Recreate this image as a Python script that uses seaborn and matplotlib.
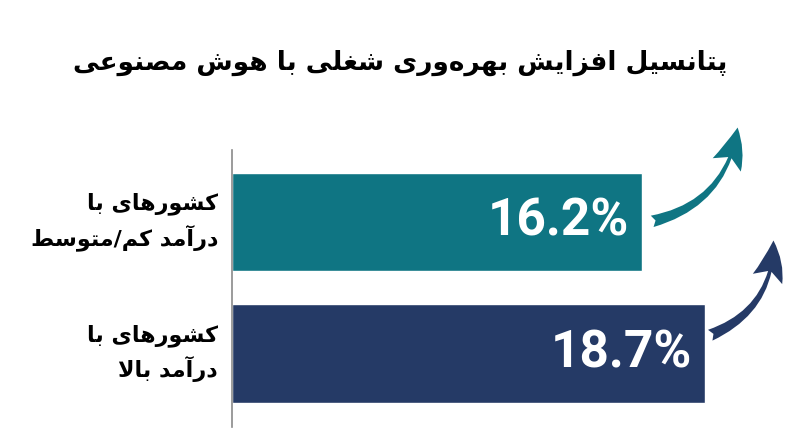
import seaborn as sns
import matplotlib.pyplot as plt
import pandas as pd
from matplotlib.patches import FancyArrowPatch

# data
groups = ['کشورهای با\nدرآمد کم/متوسط', 'کشورهای با\nدرآمد بالا']
values = [16.2, 18.7]
colors = ['#0F7583', '#253A66']
title = 'پتانسیل افزایش بهره\u200cوری شغلی با هوش مصنوعی'

# simple persian shaping (matplotlib has no complex text layout)
# letter: (isolated, final, initial, medial) ; 2 forms = right-joining only
FORMS = {
    'ا': (0xFE8D, 0xFE8E), 'آ': (0xFE81, 0xFE82),
    'د': (0xFEA9, 0xFEAA), 'ر': (0xFEAD, 0xFEAE),
    'ز': (0xFEAF, 0xFEB0), 'و': (0xFEED, 0xFEEE),
    'ب': (0xFE8F, 0xFE90, 0xFE91, 0xFE92), 'پ': (0xFB56, 0xFB57, 0xFB58, 0xFB59),
    'ت': (0xFE95, 0xFE96, 0xFE97, 0xFE98), 'س': (0xFEB1, 0xFEB2, 0xFEB3, 0xFEB4),
    'ش': (0xFEB5, 0xFEB6, 0xFEB7, 0xFEB8), 'ص': (0xFEB9, 0xFEBA, 0xFEBB, 0xFEBC),
    'ط': (0xFEC1, 0xFEC2, 0xFEC3, 0xFEC4), 'ع': (0xFEC9, 0xFECA, 0xFECB, 0xFECC),
    'غ': (0xFECD, 0xFECE, 0xFECF, 0xFED0), 'ف': (0xFED1, 0xFED2, 0xFED3, 0xFED4),
    'ک': (0xFB8E, 0xFB8F, 0xFB90, 0xFB91), 'ل': (0xFEDD, 0xFEDE, 0xFEDF, 0xFEE0),
    'م': (0xFEE1, 0xFEE2, 0xFEE3, 0xFEE4), 'ن': (0xFEE5, 0xFEE6, 0xFEE7, 0xFEE8),
    'ه': (0xFEE9, 0xFEEA, 0xFEEB, 0xFEEC), 'ی': (0xFBFC, 0xFBFD, 0xFBFE, 0xFBFF),
}


def shape_line(s):
    s = s.replace('لا', '\uE000')  # lam-alef placeholder
    out = []
    for i, ch in enumerate(s):
        prev = s[i - 1] if i > 0 else ''
        nxt = s[i + 1] if i < len(s) - 1 else ''
        joins_prev = prev in FORMS and len(FORMS[prev]) == 4
        if ch == '\uE000':
            out.append(chr(0xFEFC if joins_prev else 0xFEFB))
            continue
        if ch == '\u200c':
            continue
        if ch not in FORMS:
            out.append(ch)
            continue
        f = FORMS[ch]
        joins_next = len(f) == 4 and (nxt in FORMS or nxt == '\uE000')
        if joins_prev and joins_next:
            out.append(chr(f[3]))
        elif joins_prev:
            out.append(chr(f[1]))
        elif joins_next:
            out.append(chr(f[2]))
        else:
            out.append(chr(f[0]))
    return ''.join(out)[::-1]


def fa(s):
    return '\n'.join(shape_line(l) for l in s.split('\n'))


df = pd.DataFrame({'group': [fa(g) for g in groups], 'value': values})

sns.set_theme(style='white')
plt.rcParams['font.family'] = ['DejaVu Sans']

fig = plt.figure(figsize=(8, 4.47), dpi=100)
ax = fig.add_axes([0.29, 0.045, 0.71, 0.62])
sns.barplot(data=df, x='value', y='group', hue='group', palette=colors,
            width=0.75, saturation=1, legend=False, ax=ax)
ax.set_xlim(0, 22.45)
ax.set_ylim(1.56, -0.55)
ax.set_xticks([])
ax.set_yticks([])
ax.set_xlabel('')
ax.set_ylabel('')
for side in ['top', 'right', 'bottom']:
    ax.spines[side].set_visible(False)
ax.spines['left'].set_color('#8a8a8a')
ax.spines['left'].set_linewidth(1.2)

# group labels
for i, g in enumerate(df['group']):
    ax.text(-0.55, i, g, ha='right', va='center', fontsize=16, fontweight='bold',
            color='black', linespacing=1.45)

# value labels
for i, v in enumerate(values):
    ax.text(v - 0.5, i, f'{v}%', ha='right', va='center', color='white',
            fontsize=37, fontweight='bold',
            family=['Liberation Sans Narrow', 'Roboto', 'DejaVu Sans'])

# curved arrows (start offset, end offset from bar end)
starts = [(0.3, 0.0), (0.1, -0.13)]
ends = [(3.8, -0.74), (2.7, -0.88)]
for i, v in enumerate(values):
    sx, sy = starts[i]
    dx, dy = ends[i]
    arr = FancyArrowPatch((v + sx, i + sy), (v + dx, i + dy),
                          connectionstyle='arc3,rad=0.35',
                          arrowstyle='fancy,head_length=2.0,head_width=1.6,tail_width=0.6',
                          mutation_scale=14, color=colors[i], clip_on=False, lw=0)
    ax.add_patch(arr)

fig.text(0.5, 0.859, fa(title), ha='center', va='center', fontsize=19,
         fontweight='bold', color='black')

fig.savefig('out.png', dpi=100)
